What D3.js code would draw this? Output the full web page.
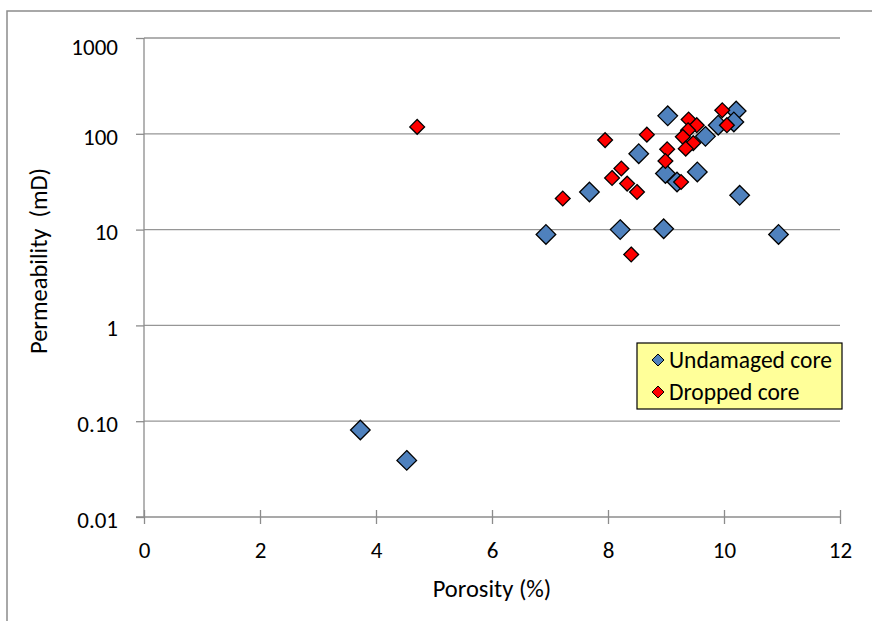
<!DOCTYPE html>
<html>
<head>
<meta charset="utf-8">
<script src="https://cdn.jsdelivr.net/npm/d3@7"></script>
<style>
  body { margin: 0; background: #fff; }
  text { font-family: Carlito, Calibri, Lato, sans-serif; fill: #000; }
</style>
</head>
<body>
<div id="chart"></div>
<script>
// porosity (%) and permeability (mD)
var undamagedPorosity = [9.03, 10.21, 10.17, 9.90, 9.68, 8.53, 8.99, 9.19, 9.54, 10.27, 7.68, 6.93, 8.21, 8.96, 10.94, 3.73, 4.53];
var undamagedPerm     = [154, 173, 133, 123, 94, 62, 38.5, 31.4, 40, 22.8, 24.7, 8.9, 10.0, 10.2, 8.9, 0.081, 0.039];

var droppedPorosity = [7.95, 8.67, 9.39, 9.53, 9.38, 9.29, 9.47, 9.34, 9.97, 10.05, 9.02, 8.99, 8.23, 8.07, 8.33, 8.50, 9.26, 7.22, 8.40, 4.71];
var droppedPerm     = [86, 98, 141, 123, 109, 93, 80, 70, 176, 123, 69, 52, 43.4, 34.6, 30.2, 24.7, 31.4, 21.1, 5.5, 118];

var xTicks = [0, 2, 4, 6, 8, 10, 12];
var yTicks = [0.01, 0.1, 1, 10, 100, 1000];
var yTickLabels = ["0.01", "0.10", "1", "10", "100", "1000"];

var seriesNames = ["Undamaged core", "Dropped core"];

function renderChart(){

    var svgWidth = 872, svgHeight = 621;
    var margin = {top: 38, right: 32, bottom: 104, left: 144};
    var width = svgWidth - margin.left - margin.right;
    var height = svgHeight - margin.top - margin.bottom;

    var svg = d3.select("#chart").append("svg")
        .attr("width", svgWidth)
        .attr("height", svgHeight);

    // outer chart border (right / bottom run off the picture)
    svg.append("rect")
        .attr("x", 7).attr("y", 11)
        .attr("width", 900).attr("height", 700)
        .attr("fill", "#fff")
        .attr("stroke", "#8c8c8c")
        .attr("stroke-width", 1.5);

    var chartGroup = svg.append("g")
        .attr("transform", `translate(${margin.left}, ${margin.top})`);

    var xScale = d3.scaleLinear().domain([0, 12]).range([0, width]);
    var yScale = d3.scaleLog().domain([0.01, 1000]).range([height, 0]);

    // gridlines
    chartGroup.append("g")
        .selectAll("line")
        .data(yTicks.slice(1))
        .enter()
        .append("line")
        .attr("x1", 0).attr("x2", width)
        .attr("y1", d => yScale(d)).attr("y2", d => yScale(d))
        .attr("stroke", "#969696")
        .attr("stroke-width", 1.3);

    // y axis: ticks outside, custom labels
    var leftAxis = d3.axisLeft(yScale)
        .tickValues(yTicks)
        .tickFormat((d, i) => yTickLabels[i])
        .tickSize(8)
        .tickPadding(18);
    var yAxis = chartGroup.append("g").call(leftAxis);
    yAxis.select(".domain").attr("stroke", "#8c8c8c").attr("stroke-width", 1.3).attr("d", `M0,0V${height}`);
    yAxis.selectAll(".tick line").attr("stroke", "#8c8c8c").attr("stroke-width", 1.3);
    yAxis.selectAll(".tick text")
        .attr("font-size", 23)
        .attr("dy", "0.32em")
        .attr("y", d => Math.max(3, 9 - yScale(d)));

    // x axis: cross ticks
    var bottomAxis = d3.axisBottom(xScale)
        .tickValues(xTicks)
        .tickFormat(d3.format("d"))
        .tickSize(7)
        .tickPadding(18);
    var xAxis = chartGroup.append("g")
        .attr("transform", `translate(0, ${height})`)
        .call(bottomAxis);
    xAxis.select(".domain").attr("stroke", "#8c8c8c").attr("stroke-width", 1.3).attr("d", `M-8,0H${width}`);
    xAxis.selectAll(".tick line").attr("stroke", "#8c8c8c").attr("stroke-width", 1.3).attr("y1", -7);
    xAxis.selectAll(".tick text").attr("font-size", 23);

    // axis titles
    chartGroup.append("text")
        .attr("x", width / 2)
        .attr("y", height + 80)
        .attr("text-anchor", "middle")
        .attr("font-size", 24.5)
        .text("Porosity (%)");

    chartGroup.append("text")
        .attr("transform", "rotate(-90)")
        .attr("x", -(261 - margin.top))
        .attr("y", -97)
        .attr("text-anchor", "middle")
        .attr("font-size", 24.5)
        .attr("xml:space", "preserve")
        .style("white-space", "pre")
        .text("Permeability  (mD)");

    var diamond = r => `M0,${-r}L${r},0L0,${r}L${-r},0Z`;

    var undamaged = undamagedPorosity.map((p, i) => ({x: p, y: undamagedPerm[i]}));
    var dropped = droppedPorosity.map((p, i) => ({x: p, y: droppedPerm[i]}));

    chartGroup.append("g").selectAll("path")
        .data(undamaged)
        .enter()
        .append("path")
        .attr("transform", d => `translate(${xScale(d.x)}, ${yScale(d.y)})`)
        .attr("d", diamond(9.8))
        .attr("fill", "#4f81bd")
        .attr("stroke", "#000")
        .attr("stroke-width", 1.3);

    chartGroup.append("g").selectAll("path")
        .data(dropped)
        .enter()
        .append("path")
        .attr("transform", d => `translate(${xScale(d.x)}, ${yScale(d.y)})`)
        .attr("d", diamond(7.4))
        .attr("fill", "#ff0000")
        .attr("stroke", "#000")
        .attr("stroke-width", 1.3);

    // legend
    var legend = svg.append("g").attr("transform", "translate(637, 343)");
    legend.append("rect")
        .attr("width", 205).attr("height", 66)
        .attr("fill", "#ffff99")
        .attr("stroke", "#000")
        .attr("stroke-width", 1.2);

    var legendColors = ["#4f81bd", "#ff0000"];
    var entries = legend.selectAll(".entry")
        .data(seriesNames)
        .enter()
        .append("g")
        .attr("class", "entry")
        .attr("transform", (d, i) => `translate(21, ${17 + i * 32})`);
    entries.append("path")
        .attr("d", diamond(6))
        .attr("fill", (d, i) => legendColors[i])
        .attr("stroke", "#000")
        .attr("stroke-width", 1);
    entries.append("text")
        .attr("x", 11)
        .attr("dy", "0.35em")
        .attr("font-size", 23.5)
        .text(d => d);
}
renderChart();
</script>
</body>
</html>
